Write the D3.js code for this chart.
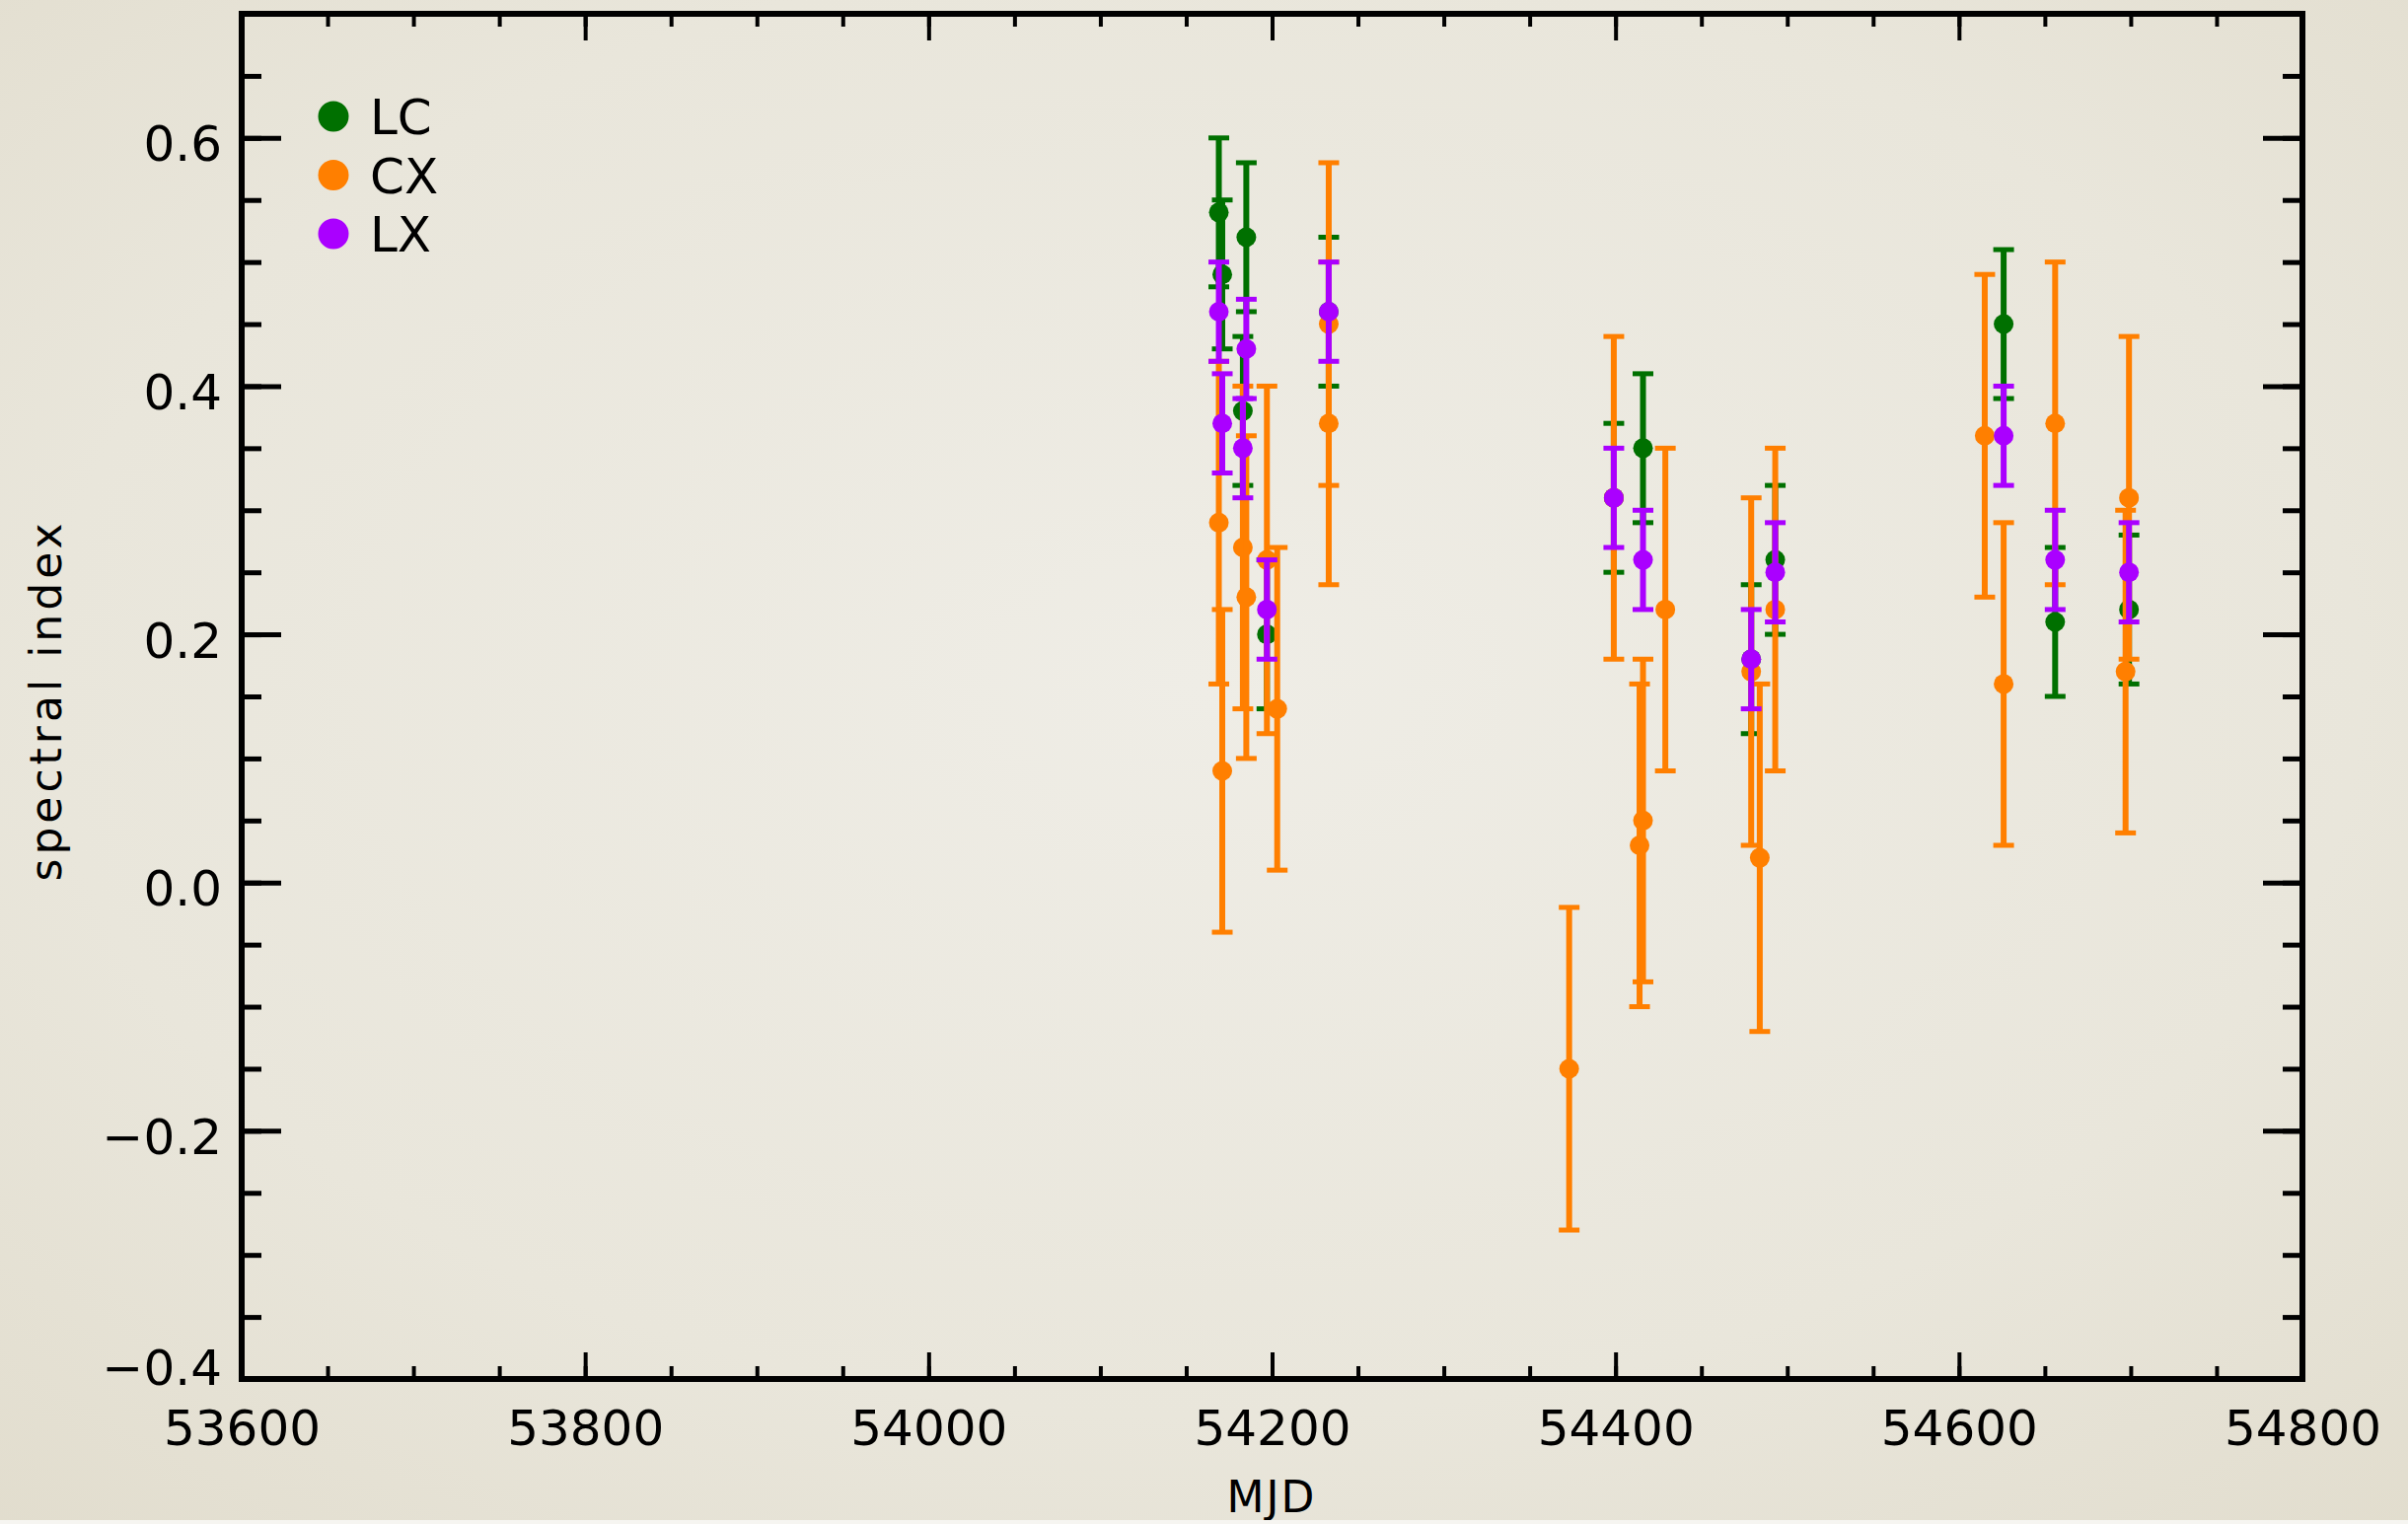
<!DOCTYPE html>
<html><head><meta charset="utf-8">
<script src="https://cdn.jsdelivr.net/npm/d3@7"></script>
<style>
html,body{margin:0;padding:0;background:#e6e2d5;}
svg{display:block;}
text{font-family:"DejaVu Sans",sans-serif;fill:#000;}
</style></head>
<body>
<svg id="chart" width="2441" height="1545"></svg>
<script>
// ---- data: [MJD, spectral index, error] ----
const seriesNames = ["LC", "CX", "LX"];
const seriesColors = ["#007000", "#ff7f00", "#aa00ff"];
const lcData = [
  [54169,0.54,0.06],[54171,0.49,0.06],[54183,0.38,0.06],[54185,0.52,0.06],[54197,0.20,0.06],
  [54233,0.46,0.06],[54399,0.31,0.06],[54416,0.35,0.06],[54479,0.18,0.06],[54493,0.26,0.06],
  [54626,0.45,0.06],[54656,0.21,0.06],[54699,0.22,0.06]
];
const cxData = [
  [54169,0.29,0.13],[54171,0.09,0.13],[54183,0.27,0.13],[54185,0.23,0.13],[54197,0.26,0.14],
  [54203,0.14,0.13],[54233,0.45,0.13],[54233,0.37,0.13],[54373,-0.15,0.13],[54399,0.31,0.13],
  [54414,0.03,0.13],[54416,0.05,0.13],[54429,0.22,0.13],[54479,0.17,0.14],[54484,0.02,0.14],
  [54493,0.22,0.13],[54615,0.36,0.13],[54626,0.16,0.13],[54656,0.37,0.13],[54697,0.17,0.13],
  [54699,0.31,0.13]
];
const lxData = [
  [54169,0.46,0.04],[54171,0.37,0.04],[54183,0.35,0.04],[54185,0.43,0.04],[54197,0.22,0.04],
  [54233,0.46,0.04],[54399,0.31,0.04],[54416,0.26,0.04],[54479,0.18,0.04],[54493,0.25,0.04],
  [54626,0.36,0.04],[54656,0.26,0.04],[54699,0.25,0.04]
];
const xMajorTicks = [53600,53800,54000,54200,54400,54600,54800];
const xMinorTicks = d3.range(53600, 54800.1, 50);
const yMajorTicks = [-0.4,-0.2,0.0,0.2,0.4,0.6];
const yMinorTicks = d3.range(-0.4, 0.7001, 0.05).map(v => +v.toFixed(2));
const xDomain = [53600, 54800];
const yDomain = [-0.4, 0.7];
const xTitle = "MJD";
const yTitle = "spectral index";

// ---- layout ----
const W = 2441, H = 1545;
const L = 245, R = 2334, T = 14, B = 1398;
const svg = d3.select("#chart");

// background
const defs = svg.append("defs");
const rg = defs.append("radialGradient").attr("id","paper")
  .attr("cx","50%").attr("cy","45%").attr("r","80%");
rg.append("stop").attr("offset","0%").attr("stop-color","#efede6");
rg.append("stop").attr("offset","60%").attr("stop-color","#e9e6db");
rg.append("stop").attr("offset","100%").attr("stop-color","#e0dbcb");
svg.append("rect").attr("width",W).attr("height",H).attr("fill","url(#paper)");

const x = d3.scaleLinear().domain(xDomain).range([L, R]);
const y = d3.scaleLinear().domain(yDomain).range([B, T]);

function styleAxis(g, w){
  g.select(".domain").remove();
  g.selectAll(".tick line").attr("stroke","#000").attr("stroke-width",w);
  g.selectAll("text").attr("font-size",50).attr("fill","#000")
   .attr("font-family","'DejaVu Sans',sans-serif");
}
// x axes
svg.append("g").attr("transform",`translate(0,${B})`)
  .call(d3.axisBottom(x).tickValues(xMinorTicks).tickSize(-13).tickFormat(""))
  .call(g=>styleAxis(g,4));
svg.append("g").attr("transform",`translate(0,${B})`)
  .call(d3.axisBottom(x).tickValues(xMajorTicks).tickSize(-27).tickPadding(31).tickFormat(d3.format("d")))
  .call(g=>styleAxis(g,4));
svg.append("g").attr("transform",`translate(0,${T})`)
  .call(d3.axisTop(x).tickValues(xMinorTicks).tickSize(-13).tickFormat(""))
  .call(g=>styleAxis(g,4));
svg.append("g").attr("transform",`translate(0,${T})`)
  .call(d3.axisTop(x).tickValues(xMajorTicks).tickSize(-27).tickFormat(""))
  .call(g=>styleAxis(g,4));
// y axes
svg.append("g").attr("transform",`translate(${L},0)`)
  .call(d3.axisLeft(y).tickValues(yMinorTicks).tickSize(-20).tickFormat(""))
  .call(g=>styleAxis(g,5));
svg.append("g").attr("transform",`translate(${L},0)`)
  .call(d3.axisLeft(y).tickValues(yMajorTicks).tickSize(-40).tickPadding(20).tickFormat(d3.format(".1f")))
  .call(g=>{
    styleAxis(g,5);
    g.selectAll("text").attr("dy",d => d === yDomain[0] ? "0.1em" : "0.46em");
  });
svg.append("g").attr("transform",`translate(${R},0)`)
  .call(d3.axisRight(y).tickValues(yMinorTicks).tickSize(-20).tickFormat(""))
  .call(g=>styleAxis(g,5));
svg.append("g").attr("transform",`translate(${R},0)`)
  .call(d3.axisRight(y).tickValues(yMajorTicks).tickSize(-40).tickFormat(""))
  .call(g=>styleAxis(g,5));

// frame
svg.append("rect").attr("x",L).attr("y",T).attr("width",R-L).attr("height",B-T)
  .attr("fill","none").attr("stroke","#000").attr("stroke-width",6);

// data
const all = [lcData, cxData, lxData];
all.forEach((data, i) => {
  const col = seriesColors[i];
  const g = svg.append("g").attr("class","series-"+seriesNames[i]);
  const pts = g.selectAll("g.pt").data(data).join("g").attr("class","pt");
  pts.append("line")
    .attr("x1",d=>x(d[0])).attr("x2",d=>x(d[0]))
    .attr("y1",d=>y(d[1]-d[2])).attr("y2",d=>y(d[1]+d[2]))
    .attr("stroke",col).attr("stroke-width",6);
  pts.append("line")
    .attr("x1",d=>x(d[0])-10.5).attr("x2",d=>x(d[0])+10.5)
    .attr("y1",d=>y(d[1]+d[2])).attr("y2",d=>y(d[1]+d[2]))
    .attr("stroke",col).attr("stroke-width",5);
  pts.append("line")
    .attr("x1",d=>x(d[0])-10.5).attr("x2",d=>x(d[0])+10.5)
    .attr("y1",d=>y(d[1]-d[2])).attr("y2",d=>y(d[1]-d[2]))
    .attr("stroke",col).attr("stroke-width",5);
  pts.append("circle")
    .attr("cx",d=>x(d[0])).attr("cy",d=>y(d[1])).attr("r",10).attr("fill",col);
});

// legend
const leg = svg.append("g");
seriesNames.forEach((n,i)=>{
  const cy = 118 + i*59.5;
  leg.append("circle").attr("cx",338).attr("cy",cy).attr("r",15.5).attr("fill",seriesColors[i]);
  leg.append("text").attr("x",375).attr("y",cy+18).attr("font-size",50).text(n);
});

// titles
svg.append("text").attr("transform","translate(62,710) rotate(-90)")
  .attr("text-anchor","middle").attr("font-size",44).attr("letter-spacing",4).text(yTitle);
svg.append("text").attr("x",1289).attr("y",1533)
  .attr("text-anchor","middle").attr("font-size",44).attr("letter-spacing",2).text(xTitle);

// torn paper edge at the bottom
svg.append("rect").attr("x",0).attr("y",1541).attr("width",W).attr("height",4).attr("fill","#f6f5f1");
</script>
</body></html>
